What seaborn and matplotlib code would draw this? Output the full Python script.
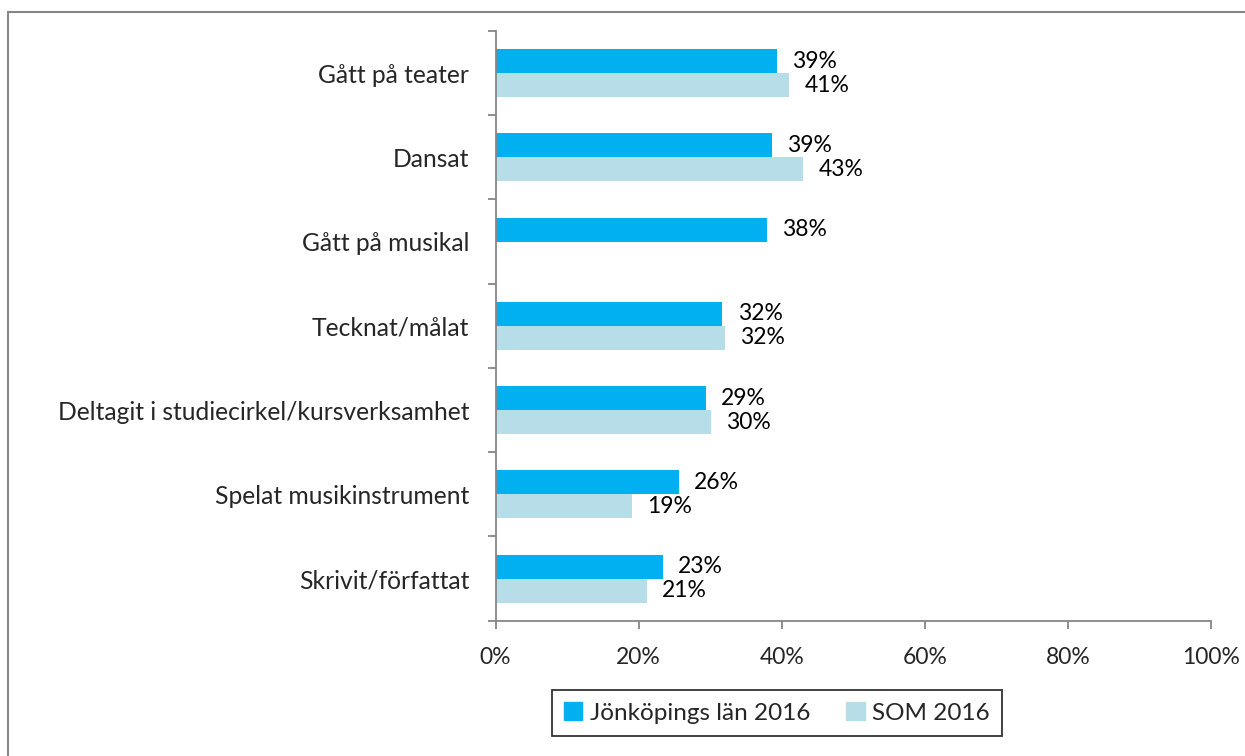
import pandas as pd
import numpy as np
import matplotlib
matplotlib.use("Agg")
import matplotlib.pyplot as plt
import matplotlib.patches as mpatches
from matplotlib.ticker import FixedLocator
import seaborn as sns

# data (percent, bar lengths estimated from pixels)
categories = [
    "Gått på teater",
    "Dansat",
    "Gått på musikal",
    "Tecknat/målat",
    "Deltagit i studiecirkel/kursverksamhet",
    "Spelat musikinstrument",
    "Skrivit/författat",
]
series_names = ["Jönköpings län 2016", "SOM 2016"]
jonkoping = [39.3, 38.6, 37.9, 31.7, 29.4, 25.6, 23.4]
som = [41.0, 43.0, np.nan, 32.0, 30.1, 19.0, 21.1]
x_ticks = [0, 20, 40, 60, 80, 100]

colors = ["#00B0F0", "#B7DDE8"]


def build_frame():
    df = pd.DataFrame({
        "Aktivitet": categories * 2,
        "Serie": [series_names[0]] * len(categories) + [series_names[1]] * len(categories),
        "Andel": jonkoping + som,
    })
    return df


def plot_chart(df):
    sns.set_style("white")
    plt.rcParams["font.family"] = ["Lato", "DejaVu Sans"]

    fig = plt.figure(figsize=(12.45, 7.56), dpi=100)
    ax = fig.add_axes([0.398, 0.179, 0.575, 0.780])

    sns.barplot(data=df, y="Aktivitet", x="Andel", hue="Serie", orient="h",
                order=categories, hue_order=series_names, palette=colors,
                saturation=1, width=0.57, ax=ax, legend=False, errorbar=None,
                edgecolor="none", linewidth=0)

    for cont in ax.containers:
        ax.bar_label(cont, labels=[f"{v:.0f}%" if not np.isnan(v) else "" for v in cont.datavalues],
                     padding=11, fontsize=16.5, color="black")

    ax.set_xlim(0, 100)
    ax.set_ylim(len(categories) - 0.5, -0.5)
    ax.set_xticks(x_ticks)
    ax.set_xticklabels([f"{t}%" for t in x_ticks], fontsize=16.5)
    ax.set_yticks(range(len(categories)))
    ax.set_yticklabels(categories, fontsize=17.7)
    ax.yaxis.set_minor_locator(FixedLocator(np.arange(-0.5, len(categories), 1.0)))
    ax.tick_params(axis="y", which="major", length=0, pad=19)
    ax.tick_params(axis="y", which="minor", length=6, width=1.3, color="#868686", left=True)
    ax.tick_params(axis="x", which="major", length=6, width=1.3, color="#868686",
                   bottom=True, pad=13)
    ax.set_xlabel("")
    ax.set_ylabel("")

    for side in ["top", "right"]:
        ax.spines[side].set_visible(False)
    for side in ["left", "bottom"]:
        ax.spines[side].set_color("#868686")
        ax.spines[side].set_linewidth(1.3)

    handles = [mpatches.Patch(color=c, label=n) for c, n in zip(colors, series_names)]
    leg = fig.legend(handles=handles, loc="center", bbox_to_anchor=(0.624, 0.057),
                     ncol=2, frameon=True, fancybox=False, fontsize=17.5,
                     handlelength=0.75, handleheight=0.75, handletextpad=0.3,
                     columnspacing=1.5, borderpad=0.5)
    leg.get_frame().set_edgecolor("black")
    leg.get_frame().set_linewidth(1.3)

    # outer chart-area border (only top/left visible in the reference)
    fig.add_artist(plt.Line2D([8 / 1245, 8 / 1245], [0, 1 - 12 / 756],
                              transform=fig.transFigure, color="#868686", lw=1.5))
    fig.add_artist(plt.Line2D([8 / 1245, 1], [1 - 12 / 756, 1 - 12 / 756],
                              transform=fig.transFigure, color="#868686", lw=1.5))
    return fig


if __name__ == "__main__":
    df = build_frame()
    fig = plot_chart(df)
    fig.savefig("out.png", dpi=100)
